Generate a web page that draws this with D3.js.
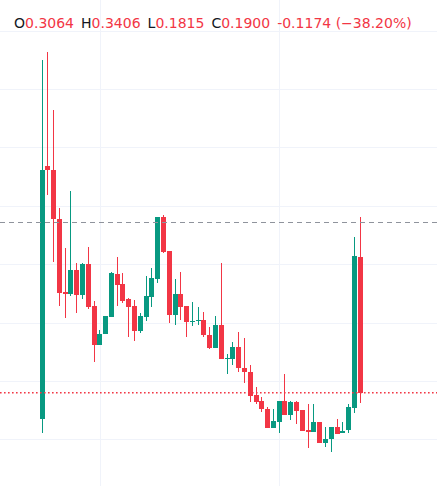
<!DOCTYPE html>
<html>
<head>
<meta charset="utf-8">
<script src="https://cdn.jsdelivr.net/npm/d3@7"></script>
<style>
  html, body { margin: 0; padding: 0; background: #ffffff; overflow: hidden; }
  svg { display: block; }
  .legend text { font-family: "DejaVu Sans", sans-serif; font-size: 14px; }
</style>
</head>
<body>
<svg id="chart"></svg>
<script>
// ── Data ──────────────────────────────────────────────────────────────────────
const opens = [
  0.1672, 0.3841, 0.3807, 0.3387, 0.2765, 0.2745, 0.2951, 0.2736, 0.3002, 0.2642,
  0.2308, 0.2403, 0.2551, 0.2916, 0.2831, 0.2702, 0.2642, 0.2431, 0.2551, 0.2722,
  0.2876, 0.3404, 0.3113, 0.2565, 0.2745, 0.2642, 0.2508, 0.2516, 0.2522, 0.2394,
  0.2285, 0.2480, 0.2193, 0.2191, 0.2291, 0.2114, 0.2080, 0.1880, 0.1829, 0.1760,
  0.1600, 0.1652, 0.1832, 0.1709, 0.1823, 0.1752, 0.1581, 0.1566, 0.1652, 0.1472,
  0.1501, 0.1609, 0.1552, 0.1581, 0.1766, 0.3064,
];
const highs = [
  0.4749, 0.4814, 0.4320, 0.3481, 0.3139, 0.3627, 0.3010, 0.3010, 0.3147, 0.2688,
  0.2437, 0.2559, 0.2933, 0.3064, 0.2925, 0.2711, 0.2694, 0.2585, 0.2896, 0.2968,
  0.3404, 0.3421, 0.3113, 0.2873, 0.2936, 0.2642, 0.2677, 0.2634, 0.2591, 0.2465,
  0.2557, 0.3013, 0.2231, 0.2337, 0.2420, 0.2366, 0.2137, 0.1949, 0.1866, 0.1780,
  0.1760, 0.1832, 0.2060, 0.1832, 0.1832, 0.1752, 0.1803, 0.1803, 0.1652, 0.1609,
  0.1609, 0.1675, 0.1652, 0.1803, 0.3236, 0.3406,
];
const lows = [
  0.1555, 0.3593, 0.3022, 0.2642, 0.2540, 0.2728, 0.2582, 0.2702, 0.2617, 0.2165,
  0.2308, 0.2403, 0.2551, 0.2642, 0.2668, 0.2377, 0.2345, 0.2411, 0.2514, 0.2636,
  0.2842, 0.3096, 0.2499, 0.2480, 0.2522, 0.2377, 0.2471, 0.2480, 0.2377, 0.2274,
  0.2285, 0.2189, 0.2060, 0.2137, 0.2080, 0.1983, 0.1823, 0.1803, 0.1737, 0.1598,
  0.1600, 0.1555, 0.1709, 0.1666, 0.1632, 0.1575, 0.1429, 0.1566, 0.1472, 0.1433,
  0.1395, 0.1546, 0.1552, 0.1558, 0.1729, 0.1815,
];
const closes = [
  0.3807, 0.3807, 0.3385, 0.2756, 0.2745, 0.2951, 0.2736, 0.3002, 0.2636, 0.2308,
  0.2403, 0.2557, 0.2925, 0.2822, 0.2688, 0.2636, 0.2431, 0.2557, 0.2728, 0.2882,
  0.3404, 0.3107, 0.2565, 0.2745, 0.2636, 0.2508, 0.2516, 0.2525, 0.2394, 0.2283,
  0.2480, 0.2189, 0.2197, 0.2291, 0.2111, 0.2080, 0.1874, 0.1823, 0.1760, 0.1600,
  0.1658, 0.1829, 0.1709, 0.1823, 0.1746, 0.1575, 0.1566, 0.1652, 0.1472, 0.1504,
  0.1609, 0.1546, 0.1575, 0.1780, 0.3074, 0.1900,
];
const gridPrices     = [0.15, 0.20, 0.25, 0.30, 0.35, 0.40, 0.45, 0.50];
const timeTickIdx    = [10, 41];          // bars where the time scale puts a tick
const crosshairPrice = 0.3359;
const legendLabels   = ['O', 'H', 'L', 'C'];
const changeText     = '-0.1174 (\u221238.20%)';

// ── Constants ────────────────────────────────────────────────────────────────
const WIDTH      = 437;
const HEIGHT     = 486;
const UP_COLOR   = '#089981';
const DOWN_COLOR = '#f23645';
const GRID_COLOR = '#f0f3fa';
const TEXT_COLOR = '#131722';
const LEGEND_GAP = 7;

// ── Scales ────────────────────────────────────────────────────────────────────
const x = d3.scalePoint()
  .domain(d3.range(opens.length))
  .range([42, 360.2]);
const y = d3.scaleLinear()
  .domain([0.1101, 0.5262])
  .range([HEIGHT, 0]);

const step   = x.step();
const bodyW  = Math.max(1, Math.round(step * 0.8));
const crisp  = v => Math.round(v) + 0.5;

const svg = d3.select('#chart')
  .attr('width', WIDTH)
  .attr('height', HEIGHT)
  .attr('viewBox', `0 0 ${WIDTH} ${HEIGHT}`);

// ── Grid ──────────────────────────────────────────────────────────────────────
const grid = svg.append('g').attr('class', 'grid');
grid.selectAll('line.h')
  .data(gridPrices)
  .join('line')
  .attr('class', 'h')
  .attr('x1', 0).attr('x2', WIDTH)
  .attr('y1', d => crisp(y(d))).attr('y2', d => crisp(y(d)))
  .attr('stroke', GRID_COLOR);
grid.selectAll('line.v')
  .data(timeTickIdx)
  .join('line')
  .attr('class', 'v')
  .attr('x1', d => crisp(x(d))).attr('x2', d => crisp(x(d)))
  .attr('y1', 0).attr('y2', HEIGHT)
  .attr('stroke', GRID_COLOR);

// ── Candles ───────────────────────────────────────────────────────────────────
const bars = opens.map((o, i) => ({ i, o, h: highs[i], l: lows[i], c: closes[i] }));
const candleG = svg.append('g').attr('class', 'candles').attr('shape-rendering', 'crispEdges');

const candle = candleG.selectAll('g.candle')
  .data(bars)
  .join('g')
  .attr('class', 'candle')
  .attr('fill', d => d.c >= d.o ? UP_COLOR : DOWN_COLOR);

candle.append('rect')
  .attr('class', 'wick')
  .attr('x', d => Math.floor(x(d.i)))
  .attr('width', 1)
  .attr('y', d => Math.round(y(d.h)))
  .attr('height', d => Math.max(1, Math.round(y(d.l)) - Math.round(y(d.h))));

candle.append('rect')
  .attr('class', 'body')
  .attr('x', d => Math.floor(x(d.i)) - Math.floor(bodyW / 2))
  .attr('width', bodyW)
  .attr('y', d => Math.round(y(Math.max(d.o, d.c))))
  .attr('height', d => Math.max(1, Math.round(y(Math.min(d.o, d.c))) - Math.round(y(Math.max(d.o, d.c)))));

// ── Price lines ───────────────────────────────────────────────────────────────
const lastClose = closes[closes.length - 1];
svg.append('line')
  .attr('x1', 0).attr('x2', WIDTH)
  .attr('y1', y(lastClose)).attr('y2', y(lastClose))
  .attr('stroke', DOWN_COLOR)
  .attr('stroke-width', 1.4)
  .attr('stroke-dasharray', '1.6,2.4');

svg.append('line')
  .attr('x1', 0).attr('x2', WIDTH)
  .attr('y1', crisp(y(crosshairPrice))).attr('y2', crisp(y(crosshairPrice)))
  .attr('stroke', '#8f939c')
  .attr('stroke-width', 1)
  .attr('shape-rendering', 'crispEdges')
  .attr('stroke-dasharray', '5,4');

// ── Legend ────────────────────────────────────────────────────────────────────
const last = bars[bars.length - 1];
const lastColor = last.c >= last.o ? UP_COLOR : DOWN_COLOR;
const legendValues = [last.o, last.h, last.l, last.c].map(v => v.toFixed(4));

const legend = svg.append('g').attr('class', 'legend');
let cursor = 14;
legendLabels.forEach((lab, k) => {
  const t = legend.append('text').attr('x', cursor).attr('y', 28);
  t.append('tspan').attr('fill', TEXT_COLOR).text(lab);
  t.append('tspan').attr('fill', lastColor).text(legendValues[k]);
  cursor += t.node().getComputedTextLength() + LEGEND_GAP;
});
legend.append('text')
  .attr('x', cursor).attr('y', 28)
  .attr('fill', lastColor)
  .text(changeText);
</script>
</body>
</html>
